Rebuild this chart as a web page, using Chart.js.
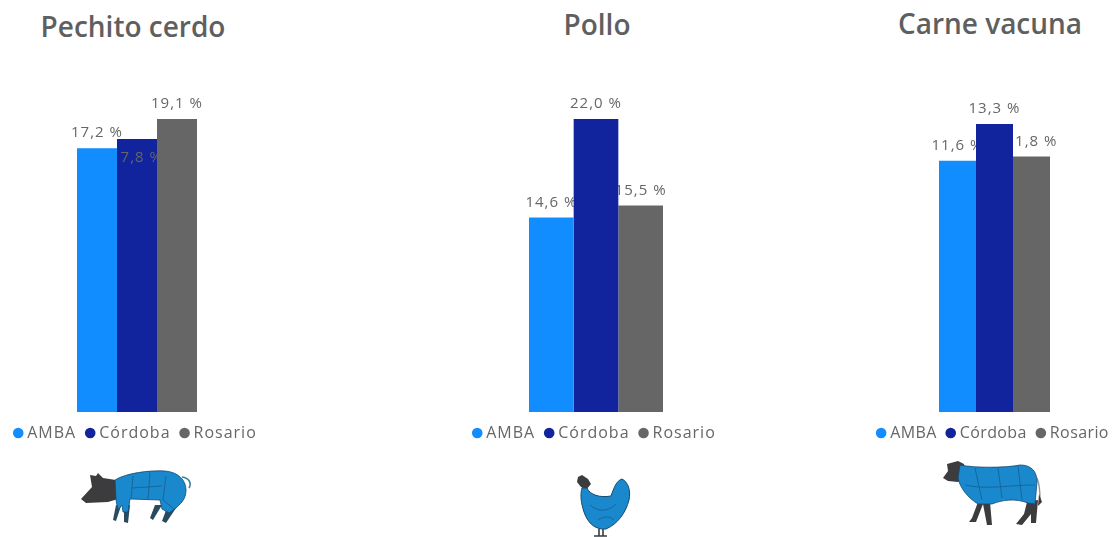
<!DOCTYPE html>
<html lang="es">
<head>
<meta charset="utf-8">
<title>Pechito cerdo, Pollo, Carne vacuna</title>
<script src="https://cdn.jsdelivr.net/npm/chart.js@4/dist/chart.umd.min.js"></script>
<style>
  html, body { margin: 0; padding: 0; background: #fff; }
  body { position: relative; width: 1114px; height: 537px; overflow: hidden; font-family: "Open Sans", sans-serif; }
  canvas { position: absolute; top: 0; }
  .titulo { position: absolute; transform: translateX(-50%); font-size: 28px; font-weight: 600; color: #5f5f5f; white-space: nowrap; line-height: 32px; }
  svg { position: absolute; left: 0; top: 0; }
</style>
</head>
<body>
<div class="titulo" style="left:133px;top:10px">Pechito cerdo</div>
<div class="titulo" style="left:597px;top:8px">Pollo</div>
<div class="titulo" style="left:990px;top:7px">Carne vacuna</div>

<canvas id="pechito"></canvas>
<canvas id="pollo"></canvas>
<canvas id="carne"></canvas>

<!-- iconos de los cortes -->
<svg width="1114" height="537" viewBox="0 0 1114 537">
  <g stroke-linejoin="round">
    <!-- cerdo -->
    <path d="M81 499 L92 487 L90 475 L96 476 L98 473 L103 478 L116 480 L118 499 L108 502 L86 503 Z" fill="#3c3c3e"/>
    <path d="M182 477 C189 478 192 483 189 488" fill="none" stroke="#3f7f9f" stroke-width="1.6"/>
    <path d="M116 505 L113 520 L116 521 L121 506 Z M124 505 L124 522 L128 523 L130 505 Z" fill="#2a4a60"/>
    <path d="M155 505 L150 518 L153 520 L162 505 Z M168 505 L162 521 L166 523 L176 508 Z" fill="#2a4a60"/>
    <path d="M115 480 C126 473 150 470 165 471 C178 472 186 480 186 490 C186 500 180 504 176 508 L169 513 L162 509 L160 500 L130 499 L128 512 L123 512 L122 505 L118 510 L116 500 Z" fill="#1a88cc" stroke="#14496e" stroke-width="0.8"/>
    <path d="M133 476 L131 499 M132 488 L162 486 M150 472 L148 500 M166 476 L163 500 L174 509" fill="none" stroke="#14608f" stroke-width="0.8"/>
    <!-- pollo -->
    <path d="M577 482 L578 477 L582 475 L588 479 L591 484 L586 490 L581 487 Z" fill="#3c3c3e"/>
    <path d="M582 488 L587 488 C590 495 600 498 611 496 C614 488 616 481 622 479 C628 482 631 490 629 500 C626 512 618 524 606 529 C596 530 588 524 584 512 C581 503 580 495 582 488 Z" fill="#1a88cc" stroke="#14496e" stroke-width="1"/>
    <path d="M590 505 C598 512 608 512 616 504 M598 520 C604 516 610 516 614 520" fill="none" stroke="#14608f" stroke-width="0.8"/>
    <path d="M599 529 L599 536 M603 529 L603 536 M594 536 L607 536" fill="none" stroke="#3c3c3e" stroke-width="1.6"/>
    <!-- vaca -->
    <path d="M943 478 L948 471 L947 464 L958 461 L964 464 L966 478 L958 482 L948 481 Z" fill="#3c3c3e"/>
    <path d="M1037 478 C1040 485 1040 492 1040 500" fill="none" stroke="#8a9aa5" stroke-width="1.4"/>
    <path d="M1039 494 L1042 502 L1038 506 Z" fill="#3c3c3e"/>
    <path d="M978 502 L972 518 L969 522 L976 522 L983 504 L987 525 L992 525 L990 502 Z" fill="#3c3c3e"/>
    <path d="M1027 502 L1024 514 L1016 524 L1022 525 L1031 514 L1031 523 L1036 523 L1038 500 Z" fill="#3c3c3e"/>
    <path d="M960 465 C975 468 1005 468 1020 465 C1032 465 1037 472 1037 482 L1035 504 L1028 503 C1015 498 1002 500 992 504 L978 504 C968 498 960 488 958 478 Z" fill="#1a88cc" stroke="#14496e" stroke-width="0.8"/>
    <path d="M975 468 L982 500 M998 468 L1002 498 M1018 466 L1022 500 M965 485 C985 490 1010 485 1035 485" fill="none" stroke="#14608f" stroke-width="0.8"/>
  </g>
</svg>

<script>
(function() {
  'use strict';

  // datos
  const categoria = ['Precio'];
  const regiones = ['AMBA', 'Córdoba', 'Rosario'];
  const pechitoCerdo = [17.2, 17.8, 19.1];
  const pollo = [14.6, 22.0, 15.5];
  const carneVacuna = [11.6, 13.3, 11.8];

  const colores = ['#118DFF', '#12239E', '#666666'];
  const GRIS = '#666666';
  const FUENTE = '"Open Sans", sans-serif';

  const etiqueta = (v) => v.toFixed(1).replace('.', ',') + ' %';

  // Etiquetas de datos: quedan debajo de las barras vecinas, salvo las que van dentro
  const etiquetas = {
    id: 'etiquetas',
    beforeLayout(chart, args, opts) { chart.ctx.letterSpacing = opts.espaciado; },
    beforeDraw(chart, args, opts) { chart.ctx.letterSpacing = opts.espaciado; },
    beforeDatasetsDraw(chart, args, opts) { dibujar(chart, opts, false); },
    afterDatasetsDraw(chart, args, opts) { dibujar(chart, opts, true); }
  };

  function dibujar(chart, opts, dentro) {
    const ctx = chart.ctx;
    chart.data.datasets.forEach((ds, i) => {
      if ((opts.dentro === i) !== dentro) return;
      const barra = chart.getDatasetMeta(i).data[0];
      const ancho = barra.width;
      ctx.save();
      if (dentro) {
        ctx.beginPath();
        ctx.rect(barra.x - ancho / 2, chart.chartArea.top, ancho, chart.chartArea.height);
        ctx.clip();
      }
      ctx.letterSpacing = '1px';
      ctx.font = '15px ' + FUENTE;
      ctx.fillStyle = GRIS;
      ctx.textAlign = 'center';
      ctx.textBaseline = 'middle';
      ctx.fillText(etiqueta(ds.data[0]), barra.x, barra.y + (dentro ? 19 : -15));
      ctx.restore();
    });
  }

  function panel(id, valores, izq, ancho, anchoBarras, arriba, dentro, espaciado) {
    const lienzo = document.getElementById(id);
    lienzo.width = ancho;
    lienzo.height = 451;
    lienzo.style.left = izq + 'px';
    new Chart(lienzo, {
      type: 'bar',
      data: {
        labels: categoria,
        datasets: regiones.map((r, i) => ({
          label: r,
          data: [valores[i]],
          backgroundColor: colores[i],
          categoryPercentage: anchoBarras / ancho,
          barPercentage: 1
        }))
      },
      options: {
        responsive: false,
        animation: false,
        layout: { padding: { top: arriba } },
        plugins: {
          title: { display: false },
          tooltip: { enabled: false },
          etiquetas: { dentro: dentro, espaciado: espaciado },
          legend: {
            position: 'bottom',
            labels: {
              usePointStyle: true,
              pointStyle: 'circle',
              boxHeight: 7.5,
              boxWidth: 2,
              padding: 13,
              color: GRIS,
              font: { size: 16, family: FUENTE }
            }
          }
        },
        scales: {
          x: { display: false },
          y: { display: false, min: 0, max: Math.max(...valores) }
        }
      },
      plugins: [etiquetas]
    });
  }

  panel('pechito', pechitoCerdo, 2, 270, 120, 119, 1, '1px');
  panel('pollo', pollo, 456, 280, 134, 119, -1, '1px');
  panel('carne', carneVacuna, 865, 259, 111, 124, -1, '0.4px');
})();
</script>
</body>
</html>
